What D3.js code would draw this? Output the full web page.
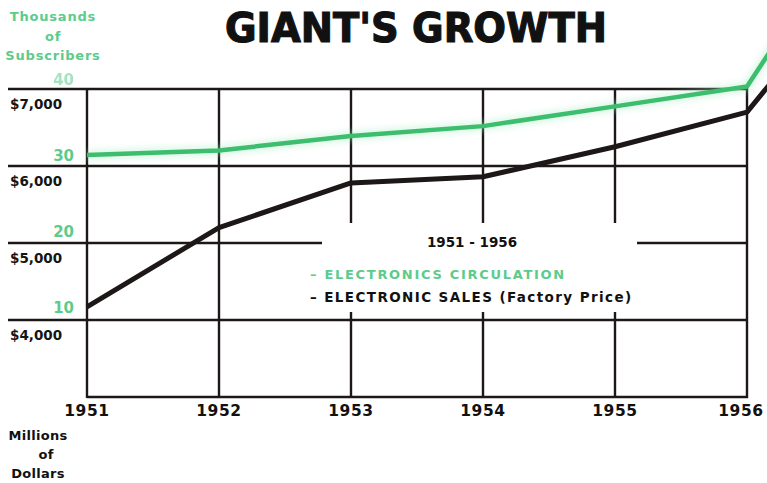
<!DOCTYPE html>
<html>
<head>
<meta charset="utf-8">
<script src="https://cdn.jsdelivr.net/npm/d3@7/dist/d3.min.js"></script>
<style>
  html, body { margin: 0; padding: 0; background: #fff; }
  svg { display: block; }
  text { font-family: "DejaVu Sans", sans-serif; }
</style>
</head>
<body>
<svg id="chart" width="767" height="483"></svg>
<script>
// Years on the horizontal axis
const years = [1951, 1952, 1953, 1954, 1955, 1956];
// Electronic sales, factory price, millions of dollars
const sales = [4170, 5200, 5780, 5860, 6250, 6700];
// Electronics circulation, thousands of subscribers
const circulation = [30, 30.6, 32.5, 33.8, 36.4, 39.0];
// Upturn drawn past the last year, running off the page
const trendYear = 1956.2;
const salesTrend = 7120;
const circulationTrend = 44.3;

const dollarTicks = [7000, 6000, 5000, 4000];
const dollarLabels = ["$7,000", "$6,000", "$5,000", "$4,000"];
const subscriberTicks = [40, 30, 20, 10];

const svg = d3.select("#chart");

const x = d3.scaleLinear().domain([1951, 1956]).range([87, 747]);
const yD = d3.scaleLinear().domain([3000, 7000]).range([397, 89]);
const yS = d3.scaleLinear().domain([10, 40]).range([307, 79]);

const ink = "#1d1717";
const green = "#3dbd6e";
const greenText = "#5ccb8b";

// soft halo for the circulation line
const defs = svg.append("defs");
const f = defs.append("filter").attr("id", "glow")
  .attr("x", "-10%").attr("y", "-50%").attr("width", "120%").attr("height", "200%");
f.append("feGaussianBlur").attr("stdDeviation", 3);

// ---- grid ----
const grid = svg.append("g").attr("stroke", ink).attr("stroke-width", 2.4).attr("stroke-linecap", "butt");
dollarTicks.forEach(v => {
  grid.append("line").attr("x1", 8).attr("x2", x(1956)).attr("y1", yD(v)).attr("y2", yD(v));
});
grid.append("line").attr("x1", x(1951)).attr("x2", x(1956) + 1).attr("y1", yD(3000)).attr("y2", yD(3000));
years.forEach(yr => {
  grid.append("line").attr("x1", x(yr)).attr("x2", x(yr)).attr("y1", yD(7000) - 1).attr("y2", yD(3000) + 1);
});

// white panel behind the legend, interrupting the grid
svg.append("rect").attr("x", 322).attr("y", 223).attr("width", 315).attr("height", 89).attr("fill", "#fff");

// ---- title ----
svg.append("text")
  .attr("x", 416).attr("y", 42)
  .attr("text-anchor", "middle")
  .attr("font-size", 40).attr("font-weight", 900)
  .attr("fill", "#111").attr("stroke", "#111").attr("stroke-width", 1.2)
  .attr("textLength", 382).attr("lengthAdjust", "spacingAndGlyphs")
  .text("GIANT'S  GROWTH");

// ---- left axis titles ----
const subT = svg.append("text").attr("fill", greenText).attr("font-size", 13).attr("font-weight", "bold")
  .attr("text-anchor", "middle").attr("letter-spacing", 0.8);
[["Thousands", 21], ["of", 41], ["Subscribers", 60]].forEach(([t, yy]) => {
  subT.append("tspan").attr("x", 53).attr("y", yy).text(t);
});

const monT = svg.append("text").attr("fill", "#111").attr("font-size", 13).attr("font-weight", "bold")
  .attr("text-anchor", "middle").attr("letter-spacing", 0.3);
[["Millions", 440], ["of", 459], ["Dollars", 478]].forEach(([t, yy], i) => {
  monT.append("tspan").attr("x", i === 1 ? 46 : 38).attr("y", yy).text(t);
});

// ---- dollar tick labels ----
dollarTicks.forEach((v, i) => {
  svg.append("text").attr("x", 10).attr("y", yD(v) + 20)
    .attr("font-size", 13.5).attr("font-weight", "bold").attr("fill", "#151515")
    .text(dollarLabels[i]);
});

// ---- subscriber tick labels ----
subscriberTicks.forEach(v => {
  svg.append("text").attr("x", 74).attr("y", yS(v) + 6)
    .attr("text-anchor", "end").attr("font-size", 15).attr("font-weight", 600)
    .attr("fill", greenText).attr("opacity", v === 40 ? 0.55 : 1)
    .text(v);
});

// ---- year labels ----
years.forEach(yr => {
  svg.append("text").attr("x", yr === 1956 ? 741 : x(yr)).attr("y", 416)
    .attr("text-anchor", "middle").attr("font-size", 15.5).attr("font-weight", "bold")
    .attr("letter-spacing", 0.6).attr("fill", "#111")
    .text(yr);
});

// ---- legend ----
svg.append("text").attr("x", 472).attr("y", 247).attr("text-anchor", "middle")
  .attr("font-size", 13.5).attr("font-weight", "bold").attr("fill", "#111")
  .text("1951 - 1956");
svg.append("text").attr("x", 310).attr("y", 279)
  .attr("font-size", 13).attr("font-weight", "bold").attr("fill", greenText)
  .attr("letter-spacing", 1.7)
  .text("– ELECTRONICS  CIRCULATION");
svg.append("text").attr("x", 310).attr("y", 302)
  .attr("font-size", 13.5).attr("font-weight", "bold").attr("fill", "#111")
  .attr("letter-spacing", 1.4)
  .text("– ELECTRONIC  SALES  (Factory  Price)");

// ---- data lines ----
const circPts = years.map((yr, i) => [yr, circulation[i]]).concat([[trendYear, circulationTrend]]);
const salesPts = years.map((yr, i) => [yr, sales[i]]).concat([[trendYear, salesTrend]]);

const circLine = d3.line().x(d => x(d[0])).y(d => yS(d[1]));
const salesLine = d3.line().x(d => x(d[0])).y(d => yD(d[1]));

svg.append("path").attr("d", circLine(circPts)).attr("fill", "none")
  .attr("stroke", "#a8ecc2").attr("stroke-width", 10).attr("opacity", 0.4)
  .attr("filter", "url(#glow)");
svg.append("path").attr("d", circLine(circPts)).attr("fill", "none")
  .attr("stroke", green).attr("stroke-width", 4.5).attr("stroke-linejoin", "round");

svg.append("path").attr("d", salesLine(salesPts)).attr("fill", "none")
  .attr("stroke", ink).attr("stroke-width", 5).attr("stroke-linejoin", "round");
</script>
</body>
</html>
